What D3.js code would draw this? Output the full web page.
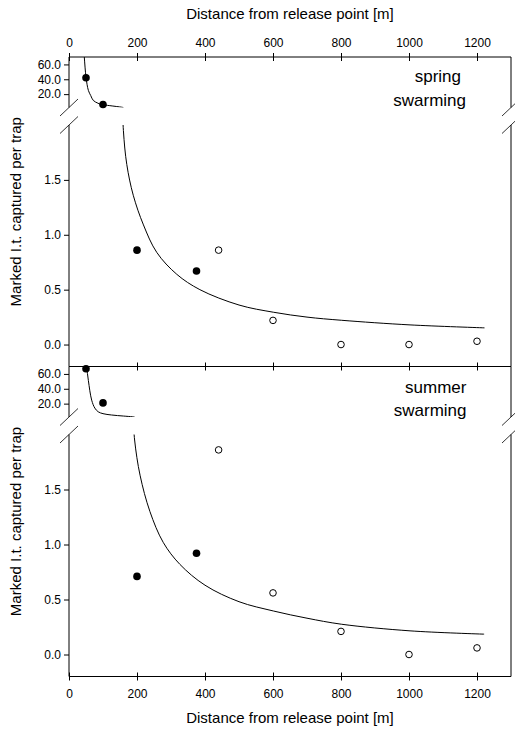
<!DOCTYPE html>
<html>
<head>
<meta charset="utf-8">
<script src="https://cdn.jsdelivr.net/npm/d3@7"></script>
<style>
body { margin: 0; background: #fff; }
text { font-family: "Liberation Sans", Arial, sans-serif; fill: #000; }
</style>
</head>
<body>
<svg id="chart" width="515" height="729"></svg>
<script>
// distances of the traps [m]
var distClosed = [50, 100, 200, 375];
var distOpen = [440, 600, 800, 1000, 1200];

// marked beetles per trap
var springClosed = [42, 6, 0.86, 0.67];
var springOpen = [0.86, 0.22, 0, 0, 0.03];
var summerClosed = [67, 21, 0.71, 0.92];
var summerOpen = [1.86, 0.56, 0.21, 0, 0.06];

// fitted curves [distance, value]
var springCurve = [[42, 90], [45, 70], [50, 43], [57, 25], [64, 18], [71.5, 11.5], [85, 7.8], [96, 6],
  [120, 4.5], [155, 2.4], [160, 1.95], [170, 1.64], [189, 1.36], [219, 1.09], [258, 0.84], [317, 0.64],
  [385, 0.5], [500, 0.36], [602, 0.294], [700, 0.25], [802, 0.221], [1003, 0.179], [1222, 0.152]];
var summerCurve = [[49, 90], [52, 70], [57, 51], [66.7, 24.7], [76, 14], [86, 9], [100, 6.5], [125, 4.7],
  [160, 3.3], [186, 2.3], [193, 1.95], [209, 1.63], [238, 1.3], [277, 1.02], [326, 0.82], [400, 0.63],
  [500, 0.48], [602, 0.395], [700, 0.33], [802, 0.275], [1003, 0.215], [1221, 0.185]];

var xTicks = [0, 200, 400, 600, 800, 1000, 1200];
var upperTicks = [20, 40, 60];
var lowerTicks = [0, 0.5, 1.0, 1.5];

var left = 69, right = 511;
var svg = d3.select("#chart");

var x = d3.scaleLinear().domain([0, 1300]).range([left, right]);

// top axis with labels
var topAxis = svg.append("g")
    .attr("transform", "translate(0,57)")
    .call(d3.axisTop(x).tickValues(xTicks).tickSize(4).tickPadding(6).tickFormat(d3.format("d")));
topAxis.select(".domain").remove();
topAxis.selectAll(".tick line").attr("y1", -4).attr("y2", 4);
topAxis.selectAll("text").style("font-size", "12px").style("font-family", "Liberation Sans, Arial");

svg.append("text")
    .attr("x", (left + right) / 2)
    .attr("y", 19)
    .style("text-anchor", "middle")
    .style("font-size", "15px")
    .text("Distance from release point [m]");

// keep the points of a region plus one neighbour on each side
function regionPts(curve, test) {
  return curve.filter(function(d, i) {
    return test(d) || (i > 0 && test(curve[i - 1])) || (i < curve.length - 1 && test(curve[i + 1]));
  });
}

function panel(top, bottom, closedVals, openVals, curve, labels, id) {
  var upTop = top, upBot = top + 50.5, loTop = top + 68, loBot = bottom;
  var yUp = d3.scaleLinear().domain([2, 70]).range([upBot, upTop]);
  var yLo = d3.scaleLinear().domain([-0.2, 2]).range([loBot, loTop]);

  // clip regions
  var defs = svg.append("defs");
  defs.append("clipPath").attr("id", "up" + id).append("rect")
      .attr("x", left).attr("y", upTop).attr("width", right - left).attr("height", upBot - upTop);
  defs.append("clipPath").attr("id", "lo" + id).append("rect")
      .attr("x", left).attr("y", loTop).attr("width", right - left).attr("height", loBot - loTop);

  // y axes
  var ga = svg.append("g").attr("transform", "translate(" + left + ",0)")
      .call(d3.axisLeft(yUp).tickValues(upperTicks).tickSize(5).tickPadding(3).tickFormat(d3.format(".1f")));
  ga.select(".domain").remove();
  var gb = svg.append("g").attr("transform", "translate(" + left + ",0)")
      .call(d3.axisLeft(yLo).tickValues(lowerTicks).tickSize(5).tickPadding(3).tickFormat(d3.format(".1f")));
  gb.select(".domain").remove();
  svg.selectAll(".tick text").style("font-size", "12px").style("font-family", "Liberation Sans, Arial");

  // axis lines, left and right, broken
  [left, right].forEach(function(ax) {
    svg.append("line").attr("x1", ax).attr("x2", ax).attr("y1", upTop).attr("y2", upBot)
        .attr("stroke", "#000");
    svg.append("line").attr("x1", ax).attr("x2", ax).attr("y1", loTop).attr("y2", loBot)
        .attr("stroke", "#000");
    [upBot, loTop].forEach(function(yy) {
      svg.append("line").attr("x1", ax - 9).attr("x2", ax + 9)
          .attr("y1", yy + 8.5).attr("y2", yy - 8.5)
          .attr("stroke", "#000").attr("stroke-width", 0.8);
    });
  });

  // curve in each region
  var upPts = regionPts(curve, function(d) { return d[1] >= 2; });
  var loPts = regionPts(curve, function(d) { return d[1] < 2; });
  var lineUp = d3.line().x(function(d) { return x(d[0]); }).y(function(d) { return yUp(d[1]); })
      .curve(d3.curveCatmullRom.alpha(0.5));
  var lineLo = d3.line().x(function(d) { return x(d[0]); }).y(function(d) { return yLo(d[1]); })
      .curve(d3.curveCatmullRom.alpha(0.5));
  svg.append("path").datum(upPts).attr("d", lineUp).attr("clip-path", "url(#up" + id + ")")
      .attr("fill", "none").attr("stroke", "#000").attr("stroke-width", 1);
  svg.append("path").datum(loPts).attr("d", lineLo).attr("clip-path", "url(#lo" + id + ")")
      .attr("fill", "none").attr("stroke", "#000").attr("stroke-width", 1);

  // points
  var closed = distClosed.map(function(d, i) { return {x: d, v: closedVals[i]}; });
  var open = distOpen.map(function(d, i) { return {x: d, v: openVals[i]}; });
  function py(d) { return d.v > 2 ? yUp(d.v) : yLo(d.v); }
  svg.selectAll(".cl" + id).data(closed).enter().append("circle")
      .attr("cx", function(d) { return x(d.x); })
      .attr("cy", py)
      .attr("r", 3.8)
      .attr("fill", "#000");
  svg.selectAll(".op" + id).data(open).enter().append("circle")
      .attr("cx", function(d) { return x(d.x); })
      .attr("cy", py)
      .attr("r", 3.3)
      .attr("fill", "#fff")
      .attr("stroke", "#000")
      .attr("stroke-width", 1);

  // season label
  labels.forEach(function(l) {
    svg.append("text").attr("x", l.x).attr("y", l.y)
        .style("text-anchor", "end").style("font-size", "17px").text(l.t);
  });

  // y title
  svg.append("text")
      .attr("transform", "translate(21," + ((top + bottom) / 2) + ") rotate(-90)")
      .style("text-anchor", "middle")
      .style("font-size", "15px")
      .text("Marked I.t. captured per trap");
}

panel(57, 366.5, springClosed, springOpen, springCurve,
  [{t: "spring", x: 461, y: 81.5}, {t: "swarming", x: 466, y: 105.7}], "s");
panel(366.5, 676.5, summerClosed, summerOpen, summerCurve,
  [{t: "summer", x: 466.5, y: 393}, {t: "swarming", x: 466.5, y: 415.7}], "u");

// middle axis (no labels)
var midAxis = svg.append("g")
    .attr("transform", "translate(0,366.5)")
    .call(d3.axisTop(x).tickValues(xTicks.slice(1)).tickSize(4).tickFormat(""));
midAxis.select(".domain").remove();
midAxis.selectAll(".tick line").attr("y1", -4).attr("y2", 4);

// horizontal axis lines
[57, 366.5, 676.5].forEach(function(yy) {
  svg.append("line").attr("x1", left).attr("x2", right).attr("y1", yy).attr("y2", yy)
      .attr("stroke", "#000");
});

// bottom axis
var botAxis = svg.append("g")
    .attr("transform", "translate(0,676.5)")
    .call(d3.axisBottom(x).tickValues(xTicks).tickSize(4).tickPadding(9).tickFormat(d3.format("d")));
botAxis.select(".domain").remove();
botAxis.selectAll(".tick line").attr("y1", -4).attr("y2", 4);
botAxis.selectAll("text").style("font-size", "12px").style("font-family", "Liberation Sans, Arial");

svg.append("text")
    .attr("x", (left + right) / 2)
    .attr("y", 723)
    .style("text-anchor", "middle")
    .style("font-size", "15px")
    .text("Distance from release point [m]");
</script>
</body>
</html>
